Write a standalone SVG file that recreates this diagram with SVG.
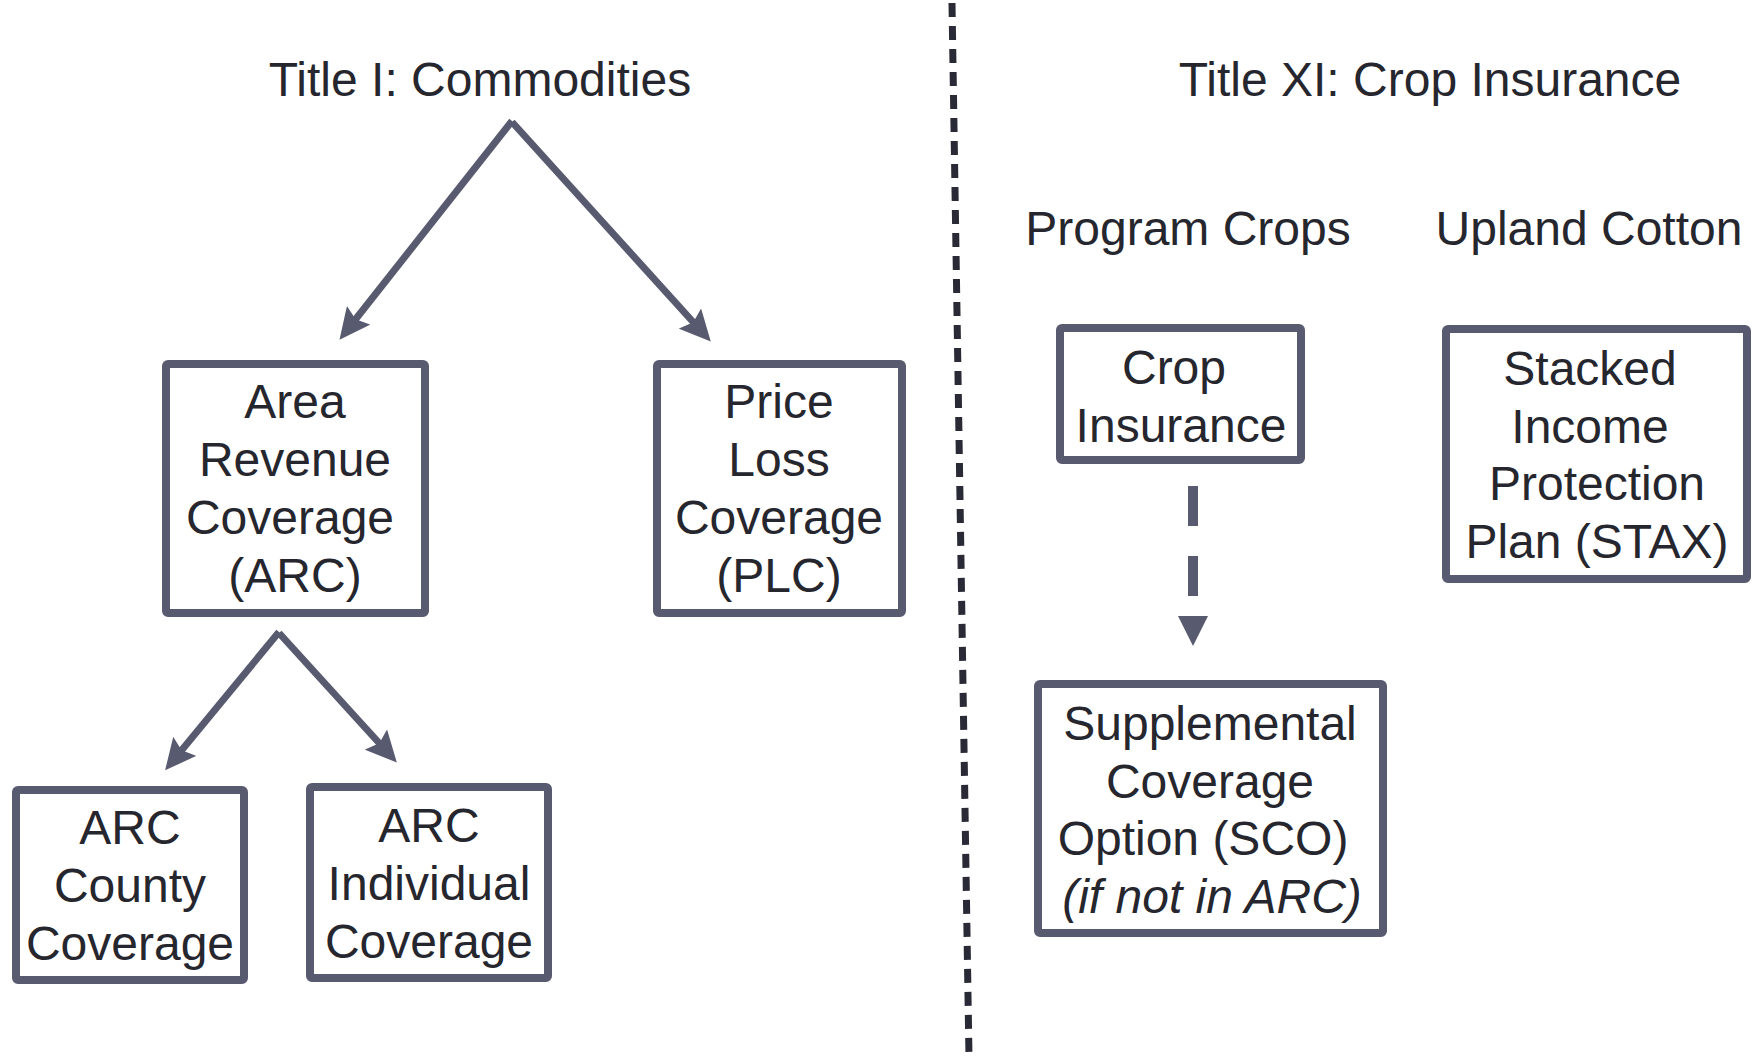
<svg xmlns="http://www.w3.org/2000/svg" width="1758" height="1057" viewBox="0 0 1758 1057">
<defs>
<style>
text{font-family:"Liberation Sans",Arial,sans-serif;font-size:48px;fill:#26262e;text-anchor:middle}
.box{fill:#ffffff;stroke:#585a6f;stroke-width:8}
.arr{stroke:#585a6f;stroke-width:7;fill:none}
.dash{stroke:#585a6f;stroke-width:10;fill:none;stroke-dasharray:40 30}
.div{stroke:#2a2a36;stroke-width:7;stroke-dasharray:14 9;fill:none}
.it{font-style:italic}
</style>
<marker id="ah" markerUnits="userSpaceOnUse" markerWidth="32" markerHeight="30" viewBox="0 0 32 30" refX="6" refY="15" orient="auto">
<path d="M0,0 L31,15 L0,30 L5,15 z" fill="#585a6f"/>
</marker>
</defs>
<rect width="1758" height="1057" fill="#ffffff"/>
<g id="connectors">
<line class="div" x1="952" y1="3" x2="969" y2="1057"/>
<line class="arr" x1="512" y1="121" x2="355" y2="320" marker-end="url(#ah)"/>
<line class="arr" x1="512" y1="122" x2="694" y2="323" marker-end="url(#ah)"/>
<line class="arr" x1="279" y1="632" x2="181" y2="751" marker-end="url(#ah)"/>
<line class="arr" x1="279" y1="633" x2="380" y2="744" marker-end="url(#ah)"/>
<line class="dash" x1="1193" y1="486" x2="1193" y2="596"/>
<path d="M1178,616 L1208,616 L1193,646 z" fill="#585a6f"/>
</g>
<g id="title1"><text x="480" y="96">Title I: Commodities</text></g>
<g id="title11"><text x="1430" y="96">Title XI: Crop Insurance</text></g>
<g id="programcrops"><text x="1188" y="245">Program Crops</text></g>
<g id="uplandcotton"><text x="1589" y="245">Upland Cotton</text></g>
<g id="arc">
<rect class="box" x="166" y="364" width="259" height="249" rx="2"/>
<text x="295" y="418">Area</text>
<text x="295" y="476">Revenue</text>
<text x="290" y="534">Coverage</text>
<text x="295" y="592">(ARC)</text>
</g>
<g id="plc">
<rect class="box" x="657" y="364" width="245" height="249" rx="2"/>
<text x="779" y="418">Price</text>
<text x="779" y="476">Loss</text>
<text x="779" y="534">Coverage</text>
<text x="779" y="592">(PLC)</text>
</g>
<g id="arccounty">
<rect class="box" x="16" y="790" width="228" height="190" rx="2"/>
<text x="130" y="844">ARC</text>
<text x="130" y="902">County</text>
<text x="130" y="960">Coverage</text>
</g>
<g id="arcindividual">
<rect class="box" x="310" y="787" width="238" height="191" rx="2"/>
<text x="429" y="842">ARC</text>
<text x="429" y="900">Individual</text>
<text x="429" y="958">Coverage</text>
</g>
<g id="cropinsurance">
<rect class="box" x="1060" y="328" width="241" height="132" rx="2"/>
<text x="1174" y="384">Crop</text>
<text x="1181" y="442">Insurance</text>
</g>
<g id="sco">
<rect class="box" x="1038" y="684" width="345" height="249" rx="2"/>
<text x="1210" y="740">Supplemental</text>
<text x="1210" y="798">Coverage</text>
<text x="1203" y="855">Option (SCO)</text>
<text class="it" x="1212" y="913">(if not in ARC)</text>
</g>
<g id="stax">
<rect class="box" x="1446" y="329" width="301" height="250" rx="2"/>
<text x="1590" y="385">Stacked</text>
<text x="1590" y="443">Income</text>
<text x="1597" y="500">Protection</text>
<text x="1597" y="558">Plan (STAX)</text>
</g>
</svg>
